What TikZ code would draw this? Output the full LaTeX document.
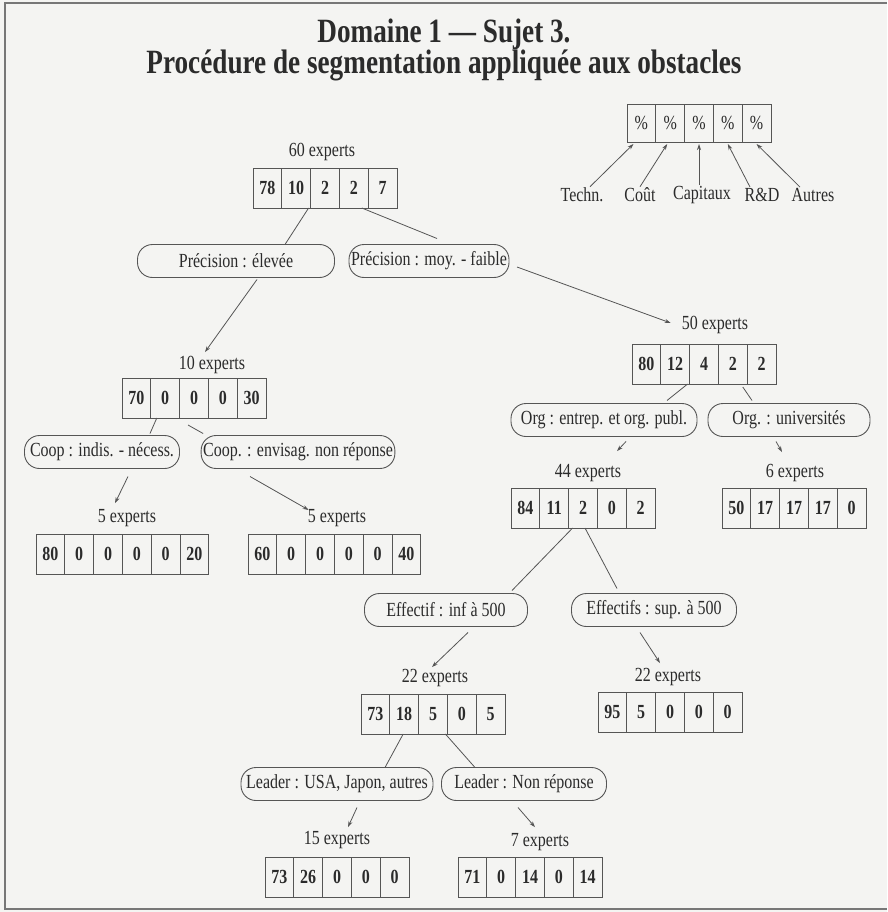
\documentclass[tikz,border=0pt]{standalone}
\usepackage{fontspec}
\setmainfont{Liberation Serif}[FakeStretch=0.80]
\usetikzlibrary{calc,arrows.meta}
\definecolor{bg}{HTML}{F4F4F2}
\definecolor{ink}{HTML}{2B2B2B}
\definecolor{ln}{HTML}{555555}
\newcommand\cellrow[5]{\foreach \v [count=\i] in {#5} {\node[#1] (#2-\i) at ({#3+(\i-1)*28.8},#4) {\v};}}
\begin{document}
\begin{tikzpicture}[x=1pt,y=-1pt,font=\fontsize{20}{22}\selectfont,text=ink,
  cell/.style={draw=ln,line width=0.9pt,minimum width=28.8pt,minimum height=40pt,inner sep=0pt,outer sep=0pt,anchor=north west,font=\fontsize{20}{22}\selectfont\bfseries},
  legcell/.style={cell,minimum height=38pt,font=\fontsize{20}{22}\selectfont},
  pill/.style={draw=ln,line width=0.9pt,rectangle,rounded corners=15pt,minimum height=33pt,inner xsep=2pt,inner ysep=0pt,outer sep=0pt},
  lbl/.style={inner sep=1pt},
  conn/.style={draw=ln,line width=0.8pt},
  arr/.style={conn,-{Stealth[length=6pt,width=4pt]}},
  frame/.style={draw=ln!80,line width=1.2pt}]
\fill[bg] (0,0) rectangle (887,912);
\useasboundingbox (0,0) rectangle (887,912);
\draw[frame] (887,3) -- (5,3) -- (5,909) -- (887,909);
% title
\node[align=center,inner sep=0pt,font=\fontsize{34}{30}\selectfont\bfseries] (title) at (444,50) {Domaine 1 — Sujet 3.\\Procédure de segmentation appliquée aux obstacles};
% legend
\cellrow{legcell}{lg}{627}{104}{\%,\%,\%,\%,\%}
\node[lbl] (lt) at (582,195) {Techn.};
\node[lbl] (lc) at (640,195) {Coût};
\node[lbl] (lk) at (702,195) {Capitaux};
\node[lbl] (lr) at (762,195) {R\&D};
\node[lbl] (la) at (813,195) {Autres};
\draw[arr] ($(lt.north)+(8,0)$) -- ($(lg-1.south)+(-8,2)$);
\draw[arr] ($(lc.north)+(0,0)$) -- ($(lg-2.south)+(-3,2)$);
\draw[arr] ($(lk.north)+(-3,0)$) -- ($(lg-3.south)+(0,2)$);
\draw[arr] ($(lr.north)+(-12,0)$) -- ($(lg-4.south)+(0,2)$);
\draw[arr] ($(la.north)+(-13,0)$) -- ($(lg-5.south)+(0,2)$);
% root
\node[lbl] (l60) at (322,152) {60 experts};
\cellrow{cell}{b60}{253}{168}{78,10,2,2,7}
\node[pill,minimum width=197pt] (p1) at (236,261) {Précision : élevée};
\node[pill,minimum width=160pt] (p2) at (429,261) {Précision : moy. - faible};
\draw[conn] ($(b60-3.south west)+(-2,0)$) -- ($(p1.north)+(49,0)$);
\draw[conn] ($(b60-4.south)+(8,0)$) -- ($(p2.north)+(8,-6)$);
% 10 experts branch
\node[lbl] (l10) at (212,365) {10 experts};
\draw[arr] ($(p1.south)+(21,2)$) -- ($(l10.north)+(-7,-3)$);
\cellrow{cell}{b10}{122}{378}{70,0,0,0,30}
\node[pill,minimum width=155pt] (c1) at (102,452) {Coop : indis. - nécess.};
\node[pill,minimum width=190pt] (c2) at (298,452) {Coop. : envisag. non réponse};
\draw[conn] ($(b10-2.south west)+(6,0)$) -- ($(c1.north)+(48,-2)$);
\draw[conn] ($(b10-3.south)+(-6,7)$) -- ($(c2.north west)+(2,-2)$);
\node[lbl] (l5a) at (127,518) {5 experts};
\node[lbl] (l5b) at (337,518) {5 experts};
\draw[arr] ($(c1.south)+(26,8)$) -- ($(l5a.north)+(-12,-5)$);
\draw[arr] ($(c2.south)+(-48,8)$) -- ($(l5b.west)+(2,-8)$);
\cellrow{cell}{b5a}{36}{534}{80,0,0,0,0,20}
\cellrow{cell}{b5b}{248}{534}{60,0,0,0,0,40}
% 50 experts branch
\node[lbl] (l50) at (715,325) {50 experts};
\draw[arr] ($(p2.east)+(8,6)$) -- ($(l50.west)+(-10,-2)$);
\cellrow{cell}{b50}{632}{344}{80,12,4,2,2}
\node[pill,minimum width=186pt] (o1) at (604,420) {Org : entrep. et org. publ.};
\node[pill,minimum width=162pt] (o2) at (789,420) {Org. : universités};
\draw[conn] ($(b50-2.south east)+(-2,0)$) -- ($(o1.north)+(63,-3)$);
\draw[conn] ($(b50-4.south)+(10,3)$) -- ($(o2.north)+(-37,-3)$);
\node[lbl] (l44) at (588,473) {44 experts};
\node[lbl] (l6) at (795,473) {6 experts};
\draw[arr] ($(o1.south)+(22,5)$) -- ($(l44.north)+(29,-12)$);
\draw[arr] ($(o2.south)+(-13,5)$) -- ($(l6.north)+(-13,-11)$);
\cellrow{cell}{b44}{511}{488}{84,11,2,0,2}
\cellrow{cell}{b6}{722}{488}{50,17,17,17,0}
\node[pill,minimum width=163pt] (e1) at (446,610) {Effectif : inf à 500};
\node[pill,minimum width=165pt] (e2) at (654,610) {Effectifs : sup. à 500};
\draw[conn] ($(b44-3.south west)+(4,0)$) -- ($(e1.north)+(66,-3)$);
\draw[conn] ($(b44-3.south)+(2,0)$) -- ($(e2.north)+(-37,-5)$);
\node[lbl] (l22a) at (435,678) {22 experts};
\node[lbl] (l22b) at (668,677) {22 experts};
\draw[arr] ($(e1.south)+(22,6)$) -- ($(l22a.north)+(-3,-1)$);
\draw[arr] ($(e2.south)+(-14,6)$) -- ($(l22b.north)+(-8,-4)$);
\cellrow{cell}{b22a}{361}{694}{73,18,5,0,5}
\cellrow{cell}{b22b}{598}{692}{95,5,0,0,0}
\node[pill,minimum width=192pt] (r1) at (337,784) {Leader : USA, Japon, autres};
\node[pill,minimum width=165pt] (r2) at (524,784) {Leader : Non réponse};
\draw[conn] ($(b22a-2.south)+(-1,0)$) -- ($(r1.north)+(48,0)$);
\draw[conn] ($(b22a-3.south east)+(-2,0)$) -- ($(r2.north)+(-49,0)$);
\node[lbl] (l15) at (337,840) {15 experts};
\node[lbl] (l7) at (540,842) {7 experts};
\draw[arr] ($(r1.south)+(20,7)$) -- ($(l15.north)+(11,-3)$);
\draw[arr] ($(r2.south)+(-6,7)$) -- ($(l7.north)+(-5,-5)$);
\cellrow{cell}{b15}{265}{857}{73,26,0,0,0}
\cellrow{cell}{b7}{458}{857}{71,0,14,0,14}
\end{tikzpicture}
\end{document}
